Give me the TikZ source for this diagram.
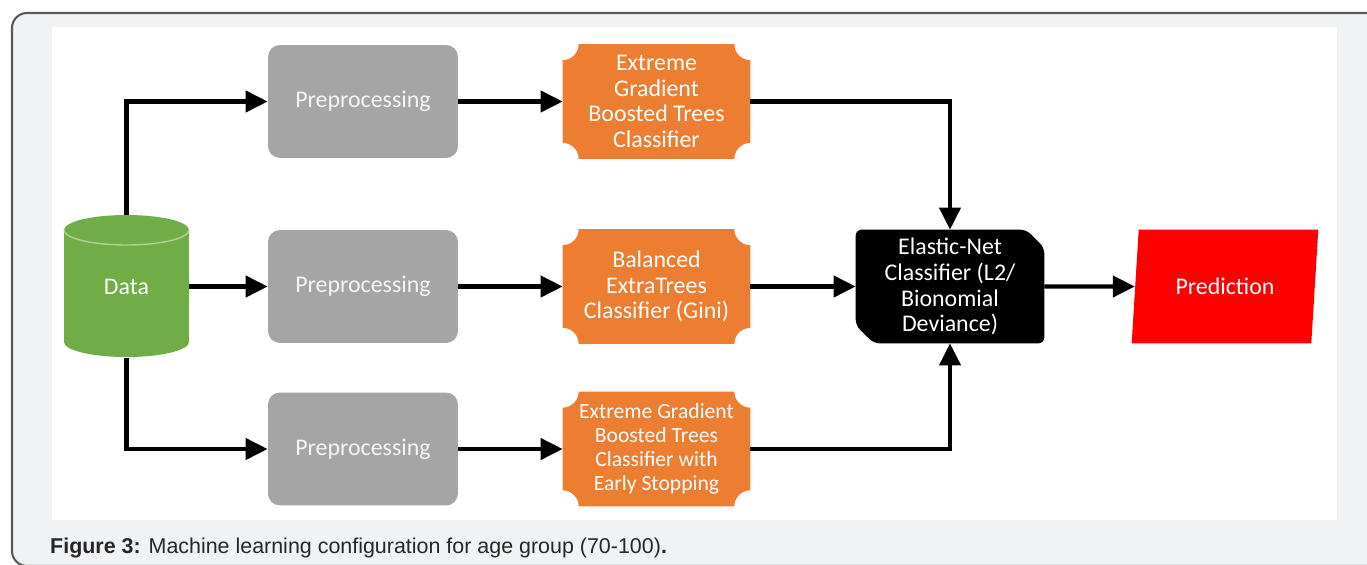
\documentclass[tikz,border=0pt]{standalone}
\usepackage{fontspec}
\setmainfont{Carlito}
\newfontfamily\capfont{Liberation Sans}
\usetikzlibrary{arrows.meta,shapes.geometric,calc,backgrounds}
\definecolor{prepgray}{HTML}{A5A5A5}
\definecolor{clforange}{HTML}{ED7D31}
\definecolor{datagreen}{HTML}{70AD47}
\definecolor{framegray}{HTML}{F1F2F4}
\tikzset{
  boxfont/.style={font=\fontsize{13.6}{14.7}\selectfont},
  prep/.style={boxfont,fill=prepgray,rounded corners=0.24cm,minimum width=3.8cm,minimum height=2.26cm,text=gray!8},
  clf/.style={boxfont,minimum width=3.74cm,minimum height=2.28cm,text=white,align=center},
  enet/.style={boxfont,minimum width=3.76cm,minimum height=2.26cm,text=white,align=center},
  flow/.style={line width=2.3pt,-{Triangle[length=0.44cm,width=0.42cm]}}
}
\begin{document}
\begin{tikzpicture}[x=0.02cm,y=-0.02cm]
\useasboundingbox (0,0) rectangle (1367,565);
\fill[datagreen] (64,230) -- (64,342) arc[start angle=180,end angle=360,x radius=1.25cm,y radius=0.3cm]
  -- (189,230) arc[start angle=0,end angle=180,x radius=1.25cm,y radius=0.3cm] -- cycle;
\draw[datagreen!55!white,line width=0.8pt] (64,230) arc[start angle=180,end angle=360,x radius=1.25cm,y radius=0.3cm];
\node[boxfont,minimum width=2.5cm,minimum height=2.84cm,text=white] (data) at (126.5,286.5) {Data};
\node[prep] (p1) at (363,101.5) {Preprocessing};
\node[prep] (p2) at (363,286.5) {Preprocessing};
\node[prep] (p3) at (363,449) {Preprocessing};
\node[clf] (c1) at (656.5,101.5) {Extreme\\Gradient\\Boosted Trees\\Classifier};
\node[clf] (c2) at (656.5,286.5) {Balanced\\ExtraTrees\\Classifier (Gini)};
\node[clf,font=\fontsize{12.3}{13.6}\selectfont] (c3) at (656.5,449) {Extreme Gradient\\Boosted Trees\\Classifier with\\Early Stopping};
\node[enet] (en) at (950,286.5) {Elastic-Net\\Classifier (L2/\\Bionomial\\Deviance)};
\node[boxfont,trapezium,trapezium left angle=81,trapezium right angle=99,trapezium stretches=true,
  fill=red,text=white,minimum width=3.76cm,minimum height=2.28cm] (pred) at (1225,286.5) {Prediction};
\begin{scope}[on background layer]
\fill[framegray,draw=black!65,line width=1.2pt,rounded corners=0.3cm] (12,13) rectangle (1390,566);
\fill[white] (52,27) rectangle (1337,520);
\foreach \n in {c1,c2,c3}
  \fill[clforange] ($(\n.north west)+(0.32cm,0)$) -- ($(\n.north east)+(-0.32cm,0)$) arc[start angle=180,end angle=270,radius=0.32cm]
    -- ($(\n.south east)+(0,0.32cm)$) arc[start angle=90,end angle=180,radius=0.32cm]
    -- ($(\n.south west)+(0.32cm,0)$) arc[start angle=0,end angle=90,radius=0.32cm]
    -- ($(\n.north west)+(0,-0.32cm)$) arc[start angle=270,end angle=360,radius=0.32cm] -- cycle;
\fill[black,rounded corners=0.12cm] ($(en.north east)+(-0.36cm,0)$) -- ($(en.north east)+(0,-0.36cm)$) -- (en.south east)
  -- ($(en.south west)+(0.36cm,0)$) -- ($(en.south west)+(0,0.36cm)$) -- (en.north west) -- cycle;
\end{scope}
\draw[flow] (data.north) |- (p1.west);
\draw[flow] (data.east) -- (p2.west);
\draw[flow] (data.south) |- (p3.west);
\foreach \i in {1,2,3} \draw[flow] (p\i.east) -- (c\i.west);
\draw[flow] (c1.east) -| (en.north);
\draw[flow] (c2.east) -- (en.west);
\draw[flow] (c3.east) -| (en.south);
\draw[flow] (en.east) -- (pred.west);
\node[anchor=base west,font=\capfont\fontsize{12.2}{14}\selectfont,text=black!85] (cap) at (44,553)
  {\textbf{Figure 3:} Machine learning configuration for age group (70-100)\textbf{.}};
\end{tikzpicture}
\end{document}
